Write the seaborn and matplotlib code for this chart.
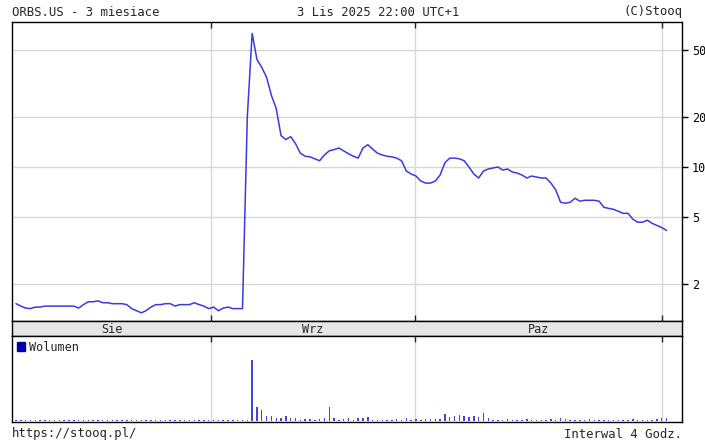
import numpy as np
import pandas as pd
import matplotlib
matplotlib.use("Agg")
import matplotlib.pyplot as plt
from matplotlib.patches import Patch
import seaborn as sns

# ORBS.US, 4h bars, ~3 months
price = [1.52, 1.47, 1.43, 1.42, 1.45, 1.45, 1.47, 1.47, 1.47, 1.47,
         1.47, 1.47, 1.47, 1.43, 1.50, 1.56, 1.56, 1.58, 1.54, 1.54,
         1.52, 1.52, 1.52, 1.50, 1.42, 1.38, 1.34, 1.38, 1.45, 1.50,
         1.50, 1.52, 1.52, 1.47, 1.50, 1.50, 1.50, 1.54, 1.50, 1.47,
         1.42, 1.45, 1.38, 1.43, 1.45, 1.42, 1.42, 1.42, 20.0, 63.0,
         44.0, 39.5, 34.4, 26.8, 22.4, 15.4, 14.6, 15.2, 13.8, 12.1,
         11.6, 11.5, 11.2, 10.9, 11.8, 12.5, 12.7, 13.0, 12.5, 12.0,
         11.6, 11.3, 13.0, 13.6, 12.8, 12.1, 11.8, 11.6, 11.5, 11.3,
         10.9, 9.46, 9.08, 8.83, 8.24, 8.01, 8.01, 8.24, 8.95, 10.6,
         11.3, 11.3, 11.2, 10.9, 10.0, 9.08, 8.59, 9.46, 9.73, 9.86,
         10.0, 9.59, 9.73, 9.33, 9.20, 8.95, 8.59, 8.83, 8.71, 8.59,
         8.59, 8.01, 7.30, 6.15, 6.07, 6.15, 6.50, 6.24, 6.32, 6.32,
         6.32, 6.24, 5.74, 5.65, 5.58, 5.43, 5.28, 5.28, 4.87, 4.67,
         4.67, 4.80, 4.60, 4.47, 4.34, 4.17]

volume = [1] * 49 + [61,
          14, 11, 5, 5, 3, 3, 5, 3, 3, 1,
          2, 2, 1, 2, 3, 14, 3, 1, 2, 3,
          1, 3, 3, 4, 1, 1, 1, 1, 1, 2,
          1, 3, 1, 2, 1, 2, 2, 2, 2, 7,
          4, 5, 6, 5, 4, 5, 4, 8, 3, 1,
          1, 1, 2, 1, 1, 1, 2, 1, 1, 1,
          1, 2, 1, 3, 2, 1, 1, 1, 1, 2,
          1, 1, 1, 1, 1, 1, 1, 1, 2, 1,
          1, 1, 1, 2, 3, 3]

month_labels = ["Sie", "Wrz", "Paz"]
month_starts = [40.5, 82.8, 134.0]   # bar index where Sep, Oct, Nov begin
y_ticks = [2, 5, 10, 20, 50]

df = pd.DataFrame({"bar": np.arange(len(price)), "price": price, "volume": volume})

sns.set_style("white")
plt.rcParams["font.family"] = ["DejaVu Sans Mono", "DejaVu Sans"]

W, H = 705, 445
fig = plt.figure(figsize=(W / 100, H / 100), dpi=100)

def box(l, t, r, b):
    return [l / W, 1 - b / H, (r - l) / W, (b - t) / H]

ax = fig.add_axes(box(12, 22, 682, 321))
band = fig.add_axes(box(12, 321, 682, 336))
axv = fig.add_axes(box(12, 336, 682, 422))

xmin, xmax = -0.83, 138.2
line_col = "#3a3ae0"
grid_col = "#d8d8d8"

# price panel
sns.lineplot(data=df, x="bar", y="price", ax=ax, color=line_col, linewidth=1.1)
ax.set_yscale("log")
ax.set_ylim(1.197, 73.8)
ax.set_xlim(xmin, xmax)
ax.yaxis.tick_right()
ax.set_yticks(y_ticks)
ax.set_yticklabels([str(v) for v in y_ticks])
ax.yaxis.set_minor_locator(matplotlib.ticker.NullLocator())
ax.tick_params(axis="y", which="major", direction="out", length=4, width=1,
               labelsize=8.5, pad=3, colors="black")
ax.set_xticks(month_starts)
ax.set_xticklabels([])
ax.tick_params(axis="x", direction="in", length=4, width=1, top=True, bottom=True)
for v in y_ticks:
    ax.axhline(v, color=grid_col, lw=1, zorder=0)
for m in month_starts:
    ax.axvline(m, color=grid_col, lw=1, zorder=0)
ax.set_xlabel("")
ax.set_ylabel("")

# month band
band.set_facecolor("#e6e6e6")
band.set_xlim(xmin, xmax)
band.set_ylim(0, 1)
band.set_xticks([])
band.set_yticks([])
edges = [xmin] + month_starts[:2] + [month_starts[2]]
for i, lab in enumerate(month_labels):
    band.text((edges[i] + edges[i + 1]) / 2, 0.45, lab, ha="center", va="center", fontsize=8.5)

# volume panel
axv.bar(df["bar"], df["volume"], width=0.3, color="#4444dd", linewidth=0)
axv.set_xlim(xmin, xmax)
axv.set_ylim(-0.8, 85)
axv.set_yticks([])
axv.set_xticks(month_starts)
axv.set_xticklabels([])
axv.tick_params(axis="x", direction="in", length=4, width=1, top=True, bottom=False)
for m in month_starts:
    axv.axvline(m, color=grid_col, lw=1, zorder=0)
axv.legend(handles=[Patch(facecolor="#0000aa", edgecolor="#0000aa", label="Wolumen")],
           loc="upper left", frameon=False, fontsize=8.5, handlelength=0.7,
           handleheight=0.7, handletextpad=0.3, borderaxespad=0.2, borderpad=0.2)

for a in (ax, band, axv):
    for s in a.spines.values():
        s.set_color("black")
        s.set_linewidth(1)

fig.text(12 / W, 1 - 12 / H, "ORBS.US - 3 miesiace", ha="left", va="center", fontsize=8.8)
fig.text(378 / W, 1 - 12 / H, "3 Lis 2025 22:00 UTC+1", ha="center", va="center", fontsize=8.8)
fig.text(682 / W, 1 - 12 / H, "(C)Stooq", ha="right", va="center", fontsize=8.8)
fig.text(12 / W, 1 - 434 / H, "https://stooq.pl/", ha="left", va="center", fontsize=8.8)
fig.text(682 / W, 1 - 434 / H, "Interwal 4 Godz.", ha="right", va="center", fontsize=8.8)

fig.savefig("out.png", dpi=100, facecolor="white")
